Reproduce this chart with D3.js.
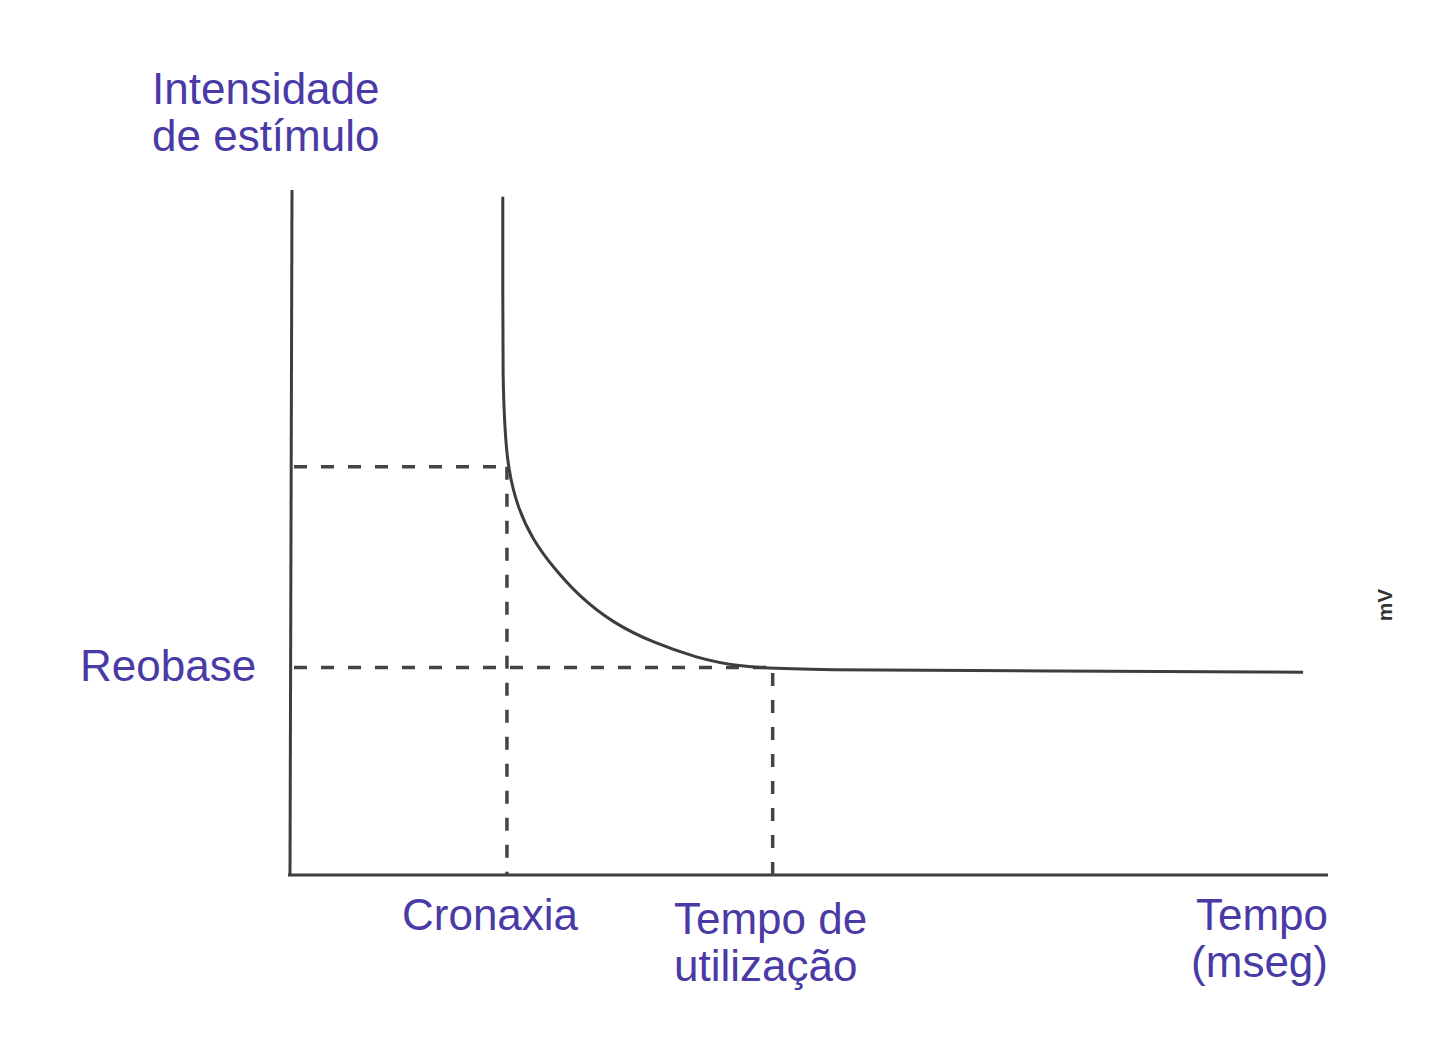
<!DOCTYPE html>
<html>
<head>
<meta charset="utf-8">
<script src="https://cdn.jsdelivr.net/npm/d3@7"></script>
<style>
  body { margin: 0; background: #fff; }
  svg { display: block; }
  .lbl { font-family: "Liberation Sans", Arial, sans-serif; font-size: 44px; fill: #4a3aa6; }
</style>
</head>
<body>
<div id="chart"></div>
<script>
// strength-duration curve (time 0-100, intensity 0-100)
const curveTime      = [20.5, 20.5, 20.5, 20.7, 21.0, 21.9, 23.4, 25.3, 27.9, 31.1, 35.0, 39.2, 43.1, 49.4, 73.2, 97.6, 97.6];
const curveIntensity = [99.0, 85.0, 72.3, 65.0, 59.4, 53.7, 48.9, 45.0, 40.6, 36.8, 33.9, 31.7, 30.4, 29.9, 29.8, 29.6, 29.6];

const rheobase = 30.3;
const chronaxie = 20.9;
const chronaxieIntensity = 59.6;
const utilizationTime = 46.5;

const yLabel = ["Intensidade", "de estímulo"];
const xLabels = [
    {lines: ["Cronaxia"], anchor: "start"},
    {lines: ["Tempo de", "utilização"], anchor: "start"},
    {lines: ["Tempo", "(mseg)"], anchor: "end"}
];

const width = 1440, height = 1062;
const svg = d3.select("#chart").append("svg")
    .attr("width", width)
    .attr("height", height);

const x = d3.scaleLinear().domain([0, 100]).range([290, 1328]);
const y = d3.scaleLinear().domain([0, 100]).range([875, 190]);

const ink = "#3d3d3d";

// axes (plain lines, no ticks)
svg.append("line")
    .attr("x1", x(0) + 2).attr("x2", x(0))
    .attr("y1", y(100)).attr("y2", y(0) + 1)
    .attr("stroke", ink).attr("stroke-width", 3);
svg.append("line")
    .attr("x1", x(0) - 2).attr("x2", x(100))
    .attr("y1", y(0)).attr("y2", y(0))
    .attr("stroke", ink).attr("stroke-width", 3);

// dashed guides
const guides = [
    [[0, chronaxieIntensity], [chronaxie, chronaxieIntensity]],
    [[chronaxie, chronaxieIntensity], [chronaxie, 0]],
    [[0, rheobase], [utilizationTime - 0.3, rheobase]],
    [[utilizationTime, rheobase - 0.8], [utilizationTime, 0]]
];
svg.selectAll(".guide")
    .data(guides)
    .enter()
    .append("line")
    .attr("class", "guide")
    .attr("x1", d => x(d[0][0]) + (d[0][0] === 0 ? 4 : 0))
    .attr("y1", d => y(d[0][1]))
    .attr("x2", d => x(d[1][0]))
    .attr("y2", d => y(d[1][1]))
    .attr("stroke", "#444")
    .attr("stroke-width", 3.5)
    .attr("stroke-dasharray", "13,14");

// curve
const line = d3.line()
    .x(d => x(d[0]))
    .y(d => y(d[1]))
    .curve(d3.curveBasis);

svg.append("path")
    .datum(curveTime.map((t, i) => [t, curveIntensity[i]]))
    .attr("d", line)
    .attr("fill", "none")
    .attr("stroke", ink)
    .attr("stroke-width", 3);

// labels
svg.append("text").attr("class", "lbl")
    .attr("x", 152).attr("y", 104)
    .selectAll("tspan")
    .data(yLabel)
    .enter()
    .append("tspan")
    .attr("x", 152)
    .attr("dy", (d, i) => i ? 47 : 0)
    .text(d => d);

svg.append("text").attr("class", "lbl")
    .attr("x", 80).attr("y", y(rheobase) + 14)
    .text("Reobase");

const xLabelPos = [[402, 930], [674, 934], [1328, 930]];
xLabels.forEach((lab, k) => {
    svg.append("text").attr("class", "lbl")
        .attr("text-anchor", lab.anchor)
        .attr("y", xLabelPos[k][1])
        .selectAll("tspan")
        .data(lab.lines)
        .enter()
        .append("tspan")
        .attr("x", xLabelPos[k][0])
        .attr("dy", (d, i) => i ? 47 : 0)
        .text(d => d);
});

// stray "mV" from the scanned page edge
svg.append("text")
    .attr("transform", "translate(1392,605) rotate(-90)")
    .attr("text-anchor", "middle")
    .attr("font-family", "Liberation Sans, Arial, sans-serif")
    .attr("font-size", 21)
    .attr("font-weight", "bold")
    .attr("fill", "#333")
    .text("mV");
</script>
</body>
</html>
